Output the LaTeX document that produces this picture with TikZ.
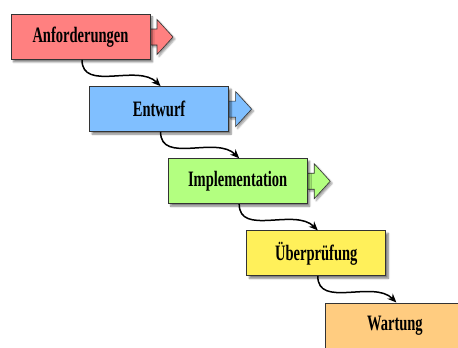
\documentclass[tikz,border=0pt]{standalone}
\usepackage{fontspec}
\newfontfamily\phasefont{Liberation Serif}[FakeStretch=0.66]
\usetikzlibrary{arrows.meta,shadows.blur}
\definecolor{anfcol}{HTML}{FF8080}
\definecolor{entwcol}{HTML}{80BFFF}
\definecolor{implcol}{HTML}{B3FF80}
\definecolor{pruefcol}{HTML}{FFF05A}
\definecolor{wartcol}{HTML}{FFCC80}
\begin{document}
\begin{tikzpicture}[x=1bp,y=1bp,
		phase/.style={draw=black!80,line width=.8bp,minimum width=139bp,minimum height=45bp,
			font={\phasefont\bfseries\fontsize{22bp}{26bp}\selectfont},
			blur shadow={shadow xshift=2.5bp,shadow yshift=-2.5bp,shadow blur steps=6,shadow opacity=50}},
		outarrow/.style={draw=black!80,line width=.6bp,
			blur shadow={shadow xshift=2bp,shadow yshift=-2bp,shadow blur steps=5,shadow opacity=40}},
		flow/.style={-{Stealth[length=9bp,width=7.5bp]},line width=1.5bp}]
	\clip (0,0) rectangle (458,347);
	\def\dx{78.6}
	\def\dy{72.1}
	% arrows out of the first three phases
	\foreach \c [count=\i from 0] in {anfcol,entwcol,implcol}
	\draw[outarrow,fill=\c] (150+\i*\dx,310-\i*\dy) ++(0,8) -- ++(7,0) -- ++(0,9.5)
	-- ++(16,-17.5) -- ++(-16,-17.5) -- ++(0,9.5) -- ++(-7,0);
	% phases
	\foreach \n/\t/\c [count=\i from 0] in {anf/Anforderungen/anfcol,entw/Entwurf/entwcol,
		impl/Implementation/implcol,pruef/Überprüfung/pruefcol,wart/Wartung/wartcol}
	\node[phase,fill=\c] (\n) at (80.5+\i*\dx,310-\i*\dy) {\t};
	\foreach \a/\b in {anf/entw,entw/impl,impl/pruef,pruef/wart}
	\draw[flow] ([xshift=1.5bp]\a.south) to[out=-90,in=135] ([xshift=1.5bp]\b.north);
\end{tikzpicture}
\end{document}
